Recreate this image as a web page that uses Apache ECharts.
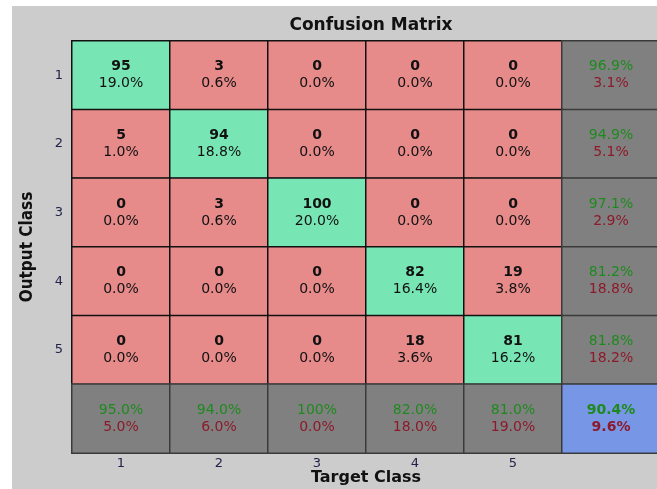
<!DOCTYPE html>
<html>
<head>
<meta charset="utf-8">
<script src="https://cdn.jsdelivr.net/npm/echarts@6/dist/echarts.min.js"></script>
<style>
  html, body { margin: 0; padding: 0; background: #fff; }
  #chart { width: 657px; height: 489px; }
</style>
</head>
<body>
<div id="chart"></div>
<script>
// class labels and confusion counts (rows = output class, cols = target class)
const classes = ['1', '2', '3', '4', '5']
const row1 = [95, 3, 0, 0, 0]
const row2 = [5, 94, 0, 0, 0]
const row3 = [0, 3, 100, 0, 0]
const row4 = [0, 0, 0, 82, 19]
const row5 = [0, 0, 0, 18, 81]
const counts = [row1, row2, row3, row4, row5]

const GREEN = '#78e6b4'
const RED = '#e68a8a'
const GRAY = '#808080'
const BLUE = '#7896e6'
const TXT_OK = '#1e8a1e'
const TXT_BAD = '#8c1a2a'

function pct (v) {
  const s = (v * 100).toFixed(1)
  return s === '100.0' ? '100%' : s + '%'
}

const total = counts.reduce((s, r) => s + r.reduce((a, b) => a + b, 0), 0)
const n = classes.length
const cells = []

counts.forEach((r, i) => {
  r.forEach((v, j) => {
    cells.push({
      value: [j, i, v],
      itemStyle: { color: i === j ? GREEN : RED, borderColor: '#111' },
      label: { formatter: '{a|' + v + '}\n{b|' + pct(v / total) + '}' }
    })
  })
  // row summary
  const rs = r.reduce((a, b) => a + b, 0)
  const ok = rs ? r[i] / rs : 0
  cells.push({
    value: [n, i, ok],
    itemStyle: { color: GRAY, borderColor: '#3a3a3a' },
    label: { formatter: '{g|' + pct(ok) + '}\n{r|' + pct(1 - ok) + '}' }
  })
})
// column summary
for (let j = 0; j < n; j++) {
  let cs = 0
  counts.forEach(r => { cs += r[j] })
  const ok = cs ? counts[j][j] / cs : 0
  cells.push({
    value: [j, n, ok],
    itemStyle: { color: GRAY, borderColor: '#3a3a3a' },
    label: { formatter: '{g|' + pct(ok) + '}\n{r|' + pct(1 - ok) + '}' }
  })
}
let diag = 0
for (let k = 0; k < n; k++) diag += counts[k][k]
const acc = diag / total
cells.push({
  value: [n, n, acc],
  itemStyle: { color: BLUE, borderColor: '#3a3a3a' },
  label: { formatter: '{G|' + pct(acc) + '}\n{R|' + pct(1 - acc) + '}' }
})

const axisLabels = classes.concat([''])
const FONT = 'DejaVu Sans'

const option = {
  backgroundColor: '#ffffff',
  animation: false,
  graphic: [{
    type: 'rect',
    z: -10,
    shape: { x: 12, y: 6, width: 660, height: 500 },
    style: { fill: '#cccccc' }
  }],
  title: {
    text: 'Confusion Matrix',
    left: 366,
    textAlign: 'center',
    top: 12,
    textStyle: { fontFamily: FONT, fontWeight: 'bold', fontSize: 17, color: '#111' }
  },
  grid: { left: 72, top: 41, width: 588, height: 412, outerBoundsMode: 'none' },
  xAxis: {
    type: 'category',
    data: axisLabels,
    name: 'Target Class',
    nameLocation: 'middle',
    nameGap: 17,
    nameMoveOverlap: false,
    nameTextStyle: { fontFamily: FONT, fontWeight: 'bold', fontSize: 16, color: '#111' },
    axisLine: { show: false },
    axisTick: { show: false },
    splitLine: { show: false },
    axisLabel: { margin: 4, fontFamily: FONT, fontSize: 13, color: '#22224a' }
  },
  yAxis: {
    type: 'category',
    data: axisLabels,
    inverse: true,
    name: 'Output Class',
    nameLocation: 'middle',
    nameGap: 36,
    nameMoveOverlap: false,
    nameTextStyle: { fontFamily: '"DejaVu Sans Condensed", "Liberation Sans Narrow", sans-serif', fontWeight: 'bold', fontSize: 17, color: '#111' },
    axisLine: { show: false },
    axisTick: { show: false },
    splitLine: { show: false },
    axisLabel: { margin: 9, fontFamily: FONT, fontSize: 13, color: '#22224a' }
  },
  series: [{
    type: 'heatmap',
    data: cells,
    itemStyle: { borderWidth: 1.5 },
    emphasis: { disabled: true },
    label: {
      show: true,
      lineHeight: 17,
      rich: {
        a: { fontFamily: FONT, fontWeight: 'bold', fontSize: 14, color: '#111', lineHeight: 17 },
        b: { fontFamily: FONT, fontSize: 14, color: '#111', lineHeight: 17 },
        g: { fontFamily: FONT, fontSize: 14, color: TXT_OK, lineHeight: 17 },
        r: { fontFamily: FONT, fontSize: 14, color: TXT_BAD, lineHeight: 17 },
        G: { fontFamily: FONT, fontWeight: 'bold', fontSize: 14, color: TXT_OK, lineHeight: 17 },
        R: { fontFamily: FONT, fontWeight: 'bold', fontSize: 14, color: TXT_BAD, lineHeight: 17 }
      }
    }
  }]
}

const chart = echarts.init(document.getElementById('chart'))
chart.setOption(option)
</script>
</body>
</html>
